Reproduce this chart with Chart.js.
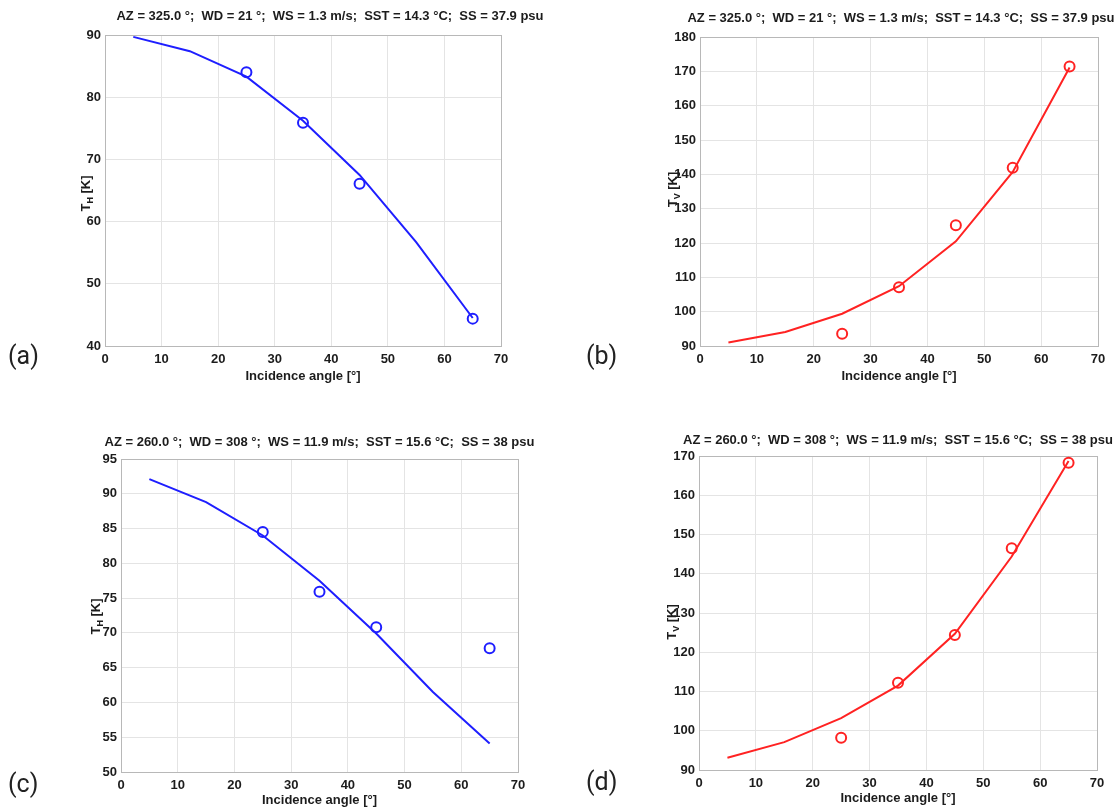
<!DOCTYPE html>
<html>
<head>
<meta charset="utf-8">
<script src="https://cdn.jsdelivr.net/npm/chart.js@4/dist/chart.umd.min.js"></script>
<style>
  body { margin: 0; background: #fff; width: 1116px; height: 808px; position: relative; overflow: hidden; }
  canvas { position: absolute; }
  .tag { position: absolute; font-family: "Liberation Sans Narrow", "Roboto", sans-serif; font-size: 25px; color: #222; line-height: 1; }
</style>
</head>
<body>
<canvas id="ca"></canvas>
<canvas id="cb"></canvas>
<canvas id="cc"></canvas>
<canvas id="cd"></canvas>
<div class="tag" style="left:8px;top:343px">(a)</div>
<div class="tag" style="left:586px;top:343px">(b)</div>
<div class="tag" style="left:8px;top:771px">(c)</div>
<div class="tag" style="left:586px;top:769px">(d)</div>
<script>
// model curve angles and measurement angles
const angles = [5, 15, 25, 35, 45, 55, 65];
const measAnglesH = [25, 35, 45, 65];
const measAnglesV = [25, 35, 45, 55, 65];

// (a) T_H, AZ = 325
const modelA = [89.7, 87.4, 83.3, 76.2, 67.5, 56.7, 44.5];
const measA = [84.0, 75.9, 66.1, 44.4];
// (b) T_V, AZ = 325
const modelB = [91.0, 94.1, 99.4, 107.4, 120.5, 140.7, 171.1];
const measB = [93.6, 107.1, 125.2, 141.9, 171.4];
// (c) T_H, AZ = 260
const modelC = [92.1, 88.8, 84.0, 77.5, 69.9, 61.5, 54.1];
const measC = [84.5, 75.9, 70.8, 67.8];
// (d) T_V, AZ = 260
const modelD = [93.1, 97.1, 103.2, 111.5, 124.7, 144.4, 168.7];
const measD = [98.2, 112.2, 124.4, 146.5, 168.3];

const xTicks = [0, 10, 20, 30, 40, 50, 60, 70];
const yTicksA = [40, 50, 60, 70, 80, 90];
const yTicksB = [90, 100, 110, 120, 130, 140, 150, 160, 170, 180];
const yTicksC = [50, 55, 60, 65, 70, 75, 80, 85, 90, 95];
const yTicksD = [90, 100, 110, 120, 130, 140, 150, 160, 170];

const titleTop = 'AZ = 325.0 °;  WD = 21 °;  WS = 1.3 m/s;  SST = 14.3 °C;  SS = 37.9 psu';
const titleBottom = 'AZ = 260.0 °;  WD = 308 °;  WS = 11.9 m/s;  SST = 15.6 °C;  SS = 38 psu';

const BLUE = '#1e1eff';
const RED = '#ff2222';
const INK = '#1c1c1c';
const FONT = '"Liberation Sans", Arial, sans-serif';
const EXT = { left: 100, top: 40, right: 50, bottom: 60 };

function pts(xs, ys) {
  return xs.map((x, i) => ({ x: x, y: ys[i] }));
}

const frame = {
  id: 'frame',
  beforeDatasetsDraw(chart) {
    const a = chart.chartArea, ctx = chart.ctx;
    ctx.save();
    ctx.strokeStyle = '#b8b8b8';
    ctx.lineWidth = 1;
    ctx.strokeRect(Math.round(a.left) + 0.5, Math.round(a.top) + 0.5, Math.round(a.right - a.left), Math.round(a.bottom - a.top));
    ctx.restore();
  },
  afterDraw(chart, args, o) {
    const a = chart.chartArea, ctx = chart.ctx;
    ctx.save();
    ctx.fillStyle = INK;
    ctx.textBaseline = 'middle';
    ctx.textAlign = 'center';
    ctx.font = 'bold 13px ' + FONT;
    ctx.fillText(o.title, (a.left + a.right) / 2 + o.titleDx, a.top + o.titleDy);
    ctx.fillText('Incidence angle [°]', (a.left + a.right) / 2, a.bottom + o.xlabDy);

    // y label: T with subscript, rotated
    ctx.translate(a.left + o.ylabDx, (a.top + a.bottom) / 2 + o.ylabDy);
    ctx.rotate(-Math.PI / 2);
    ctx.textAlign = 'left';
    ctx.font = 'bold 13px ' + FONT;
    const wT = ctx.measureText('T').width;
    ctx.font = 'bold 9px ' + FONT;
    const wS = ctx.measureText(o.sub).width;
    ctx.font = 'bold 13px ' + FONT;
    const wK = ctx.measureText(' [K]').width;
    let x = -(wT + wS + wK) / 2;
    ctx.fillText('T', x, 0);
    x += wT;
    ctx.font = 'bold 9px ' + FONT;
    ctx.fillText(o.sub, x, 5);
    x += wS;
    ctx.font = 'bold 13px ' + FONT;
    ctx.fillText(' [K]', x, 0);
    ctx.restore();
  }
};

function makePanel(id, rect, yTicks, model, measAngles, meas, color, o) {
  const cv = document.getElementById(id);
  const w = rect.R - rect.L + EXT.left + EXT.right;
  const h = rect.B - rect.T + EXT.top + EXT.bottom;
  cv.width = w; cv.height = h;
  cv.style.width = w + 'px'; cv.style.height = h + 'px';
  cv.style.left = (rect.L - EXT.left) + 'px';
  cv.style.top = (rect.T - EXT.top) + 'px';

  return new Chart(cv.getContext('2d'), {
    type: 'scatter',
    data: {
      datasets: [{
        data: pts(angles, model),
        showLine: true,
        borderColor: color,
        borderWidth: 2,
        pointRadius: 0,
        tension: 0
      }, {
        data: pts(measAngles, meas),
        showLine: false,
        borderColor: color,
        backgroundColor: 'rgba(0,0,0,0)',
        pointStyle: 'circle',
        pointRadius: 5,
        pointBorderWidth: 2
      }]
    },
    options: {
      responsive: false,
      animation: false,
      devicePixelRatio: 1,
      layout: { padding: { top: EXT.top, right: EXT.right, left: 0, bottom: 0 } },
      plugins: { legend: { display: false }, tooltip: { enabled: false }, frame: o },
      scales: {
        x: {
          type: 'linear', min: 0, max: 70,
          afterBuildTicks: s => { s.ticks = xTicks.map(v => ({ value: v })); },
          afterFit: s => { s.height = EXT.bottom; },
          grid: { color: '#e4e4e4', drawTicks: false },
          border: { display: false },
          ticks: { color: INK, font: { family: FONT, size: 13, weight: 'bold' }, padding: 6, maxRotation: 0 }
        },
        y: {
          type: 'linear', min: yTicks[0], max: yTicks[yTicks.length - 1],
          afterBuildTicks: s => { s.ticks = yTicks.map(v => ({ value: v })); },
          afterFit: s => { s.width = EXT.left; },
          grid: { color: '#e4e4e4', drawTicks: false },
          border: { display: false },
          ticks: { color: INK, font: { family: FONT, size: 13, weight: 'bold' }, padding: 4 }
        }
      }
    },
    plugins: [frame]
  });
}

makePanel('ca', { L: 105, T: 35, R: 501, B: 346 }, yTicksA, modelA, measAnglesH, measA, BLUE,
  { title: titleTop, titleDx: 27, titleDy: -19, xlabDy: 30, ylabDx: -19, ylabDy: 3, sub: 'H' });
makePanel('cb', { L: 700, T: 37, R: 1098, B: 346 }, yTicksB, modelB, measAnglesV, measB, RED,
  { title: titleTop, titleDx: 2, titleDy: -19, xlabDy: 30, ylabDx: -27, ylabDy: -2, sub: 'V' });
makePanel('cc', { L: 121, T: 459, R: 518, B: 772 }, yTicksC, modelC, measAnglesH, measC, BLUE,
  { title: titleBottom, titleDx: 0, titleDy: -17, xlabDy: 28, ylabDx: -25, ylabDy: 1, sub: 'H' });
makePanel('cd', { L: 699, T: 456, R: 1097, B: 770 }, yTicksD, modelD, measAnglesV, measD, RED,
  { title: titleBottom, titleDx: 0, titleDy: -16, xlabDy: 28, ylabDx: -27, ylabDy: 9, sub: 'V' });
</script>
</body>
</html>
